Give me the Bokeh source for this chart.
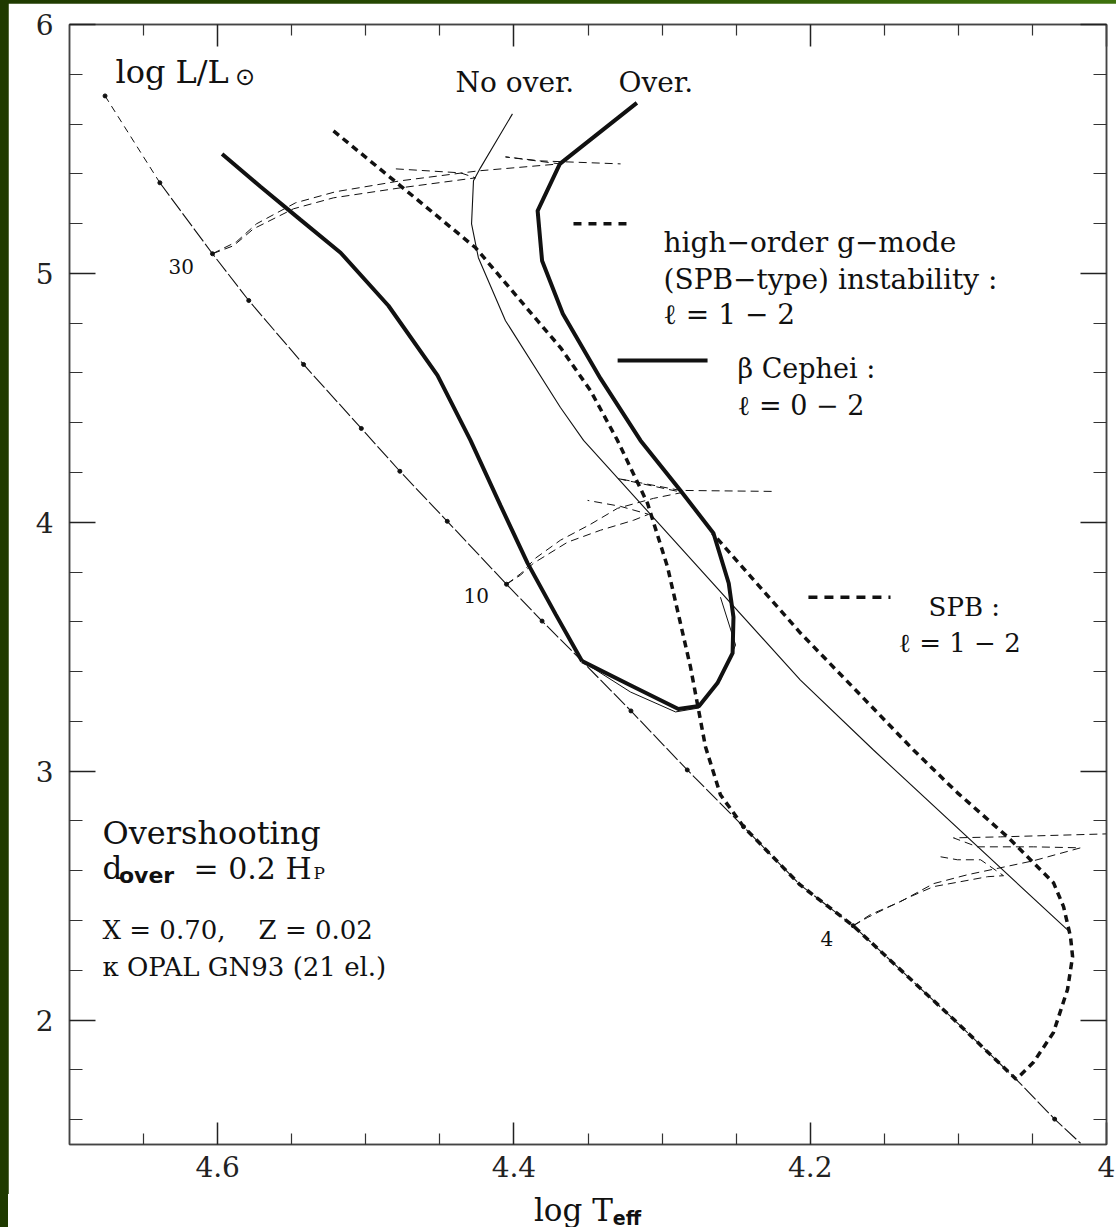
from bokeh.plotting import figure
from bokeh.models import Range1d, FixedTicker, LinearAxis, Label, Div
from bokeh.layouts import column
from bokeh.embed import file_html
from bokeh.resources import INLINE

# ---------------- data (log Teff, log L/Lsun) ----------------
zams_top_T = [4.676, 4.639]
zams_top_L = [5.713, 5.364]
zams_T = [4.639, 4.6035, 4.579, 4.542, 4.503, 4.477, 4.445, 4.405, 4.381, 4.354,
          4.321, 4.283, 4.245, 4.207, 4.171, 4.103, 4.061, 4.035, 4.0175]
zams_L = [5.364, 5.079, 4.891, 4.634, 4.377, 4.205, 4.004, 3.751, 3.603, 3.442,
          3.242, 3.005, 2.777, 2.544, 2.379, 2.002, 1.762, 1.602, 1.505]
mass_T = [4.676, 4.639, 4.6035, 4.579, 4.542, 4.503, 4.477, 4.445, 4.405, 4.381,
          4.321, 4.283, 4.245, 4.171, 4.035]
mass_L = [5.713, 5.364, 5.079, 4.891, 4.634, 4.377, 4.205, 4.004, 3.751, 3.603,
          3.242, 3.005, 2.777, 2.379, 1.602]

# beta Cephei domain (overshooting) - blue edge
bcep_blue_T = [4.597, 4.571, 4.544, 4.517, 4.4847, 4.4516, 4.4293, 4.4091, 4.3908, 4.3719, 4.354]
bcep_blue_L = [5.480, 5.348, 5.215, 5.083, 4.870, 4.590, 4.329, 4.068, 3.836, 3.631, 3.442]
# beta Cephei domain - lower/red edge and TAMS with overshooting
bcep_red_T = [4.354, 4.319, 4.289, 4.275, 4.2626, 4.2524, 4.2518, 4.255, 4.2653,
              4.2876, 4.3146, 4.3416, 4.367, 4.381, 4.384, 4.369, 4.317]
bcep_red_L = [3.442, 3.338, 3.250, 3.262, 3.354, 3.474, 3.619, 3.755, 3.956,
              4.128, 4.329, 4.578, 4.838, 5.051, 5.2515, 5.440, 5.685]
# beta Cephei domain - no overshooting (thin)
bcep_noov_T = [4.354, 4.3213, 4.2909, 4.275, 4.2606, 4.2504, 4.2606]
bcep_noov_L = [3.442, 3.318, 3.238, 3.254, 3.366, 3.507, 3.699]

# TAMS without overshooting
tams_T = [4.401, 4.4226, 4.4273, 4.4286, 4.424, 4.4057, 4.3686, 4.353, 4.2066, 4.1573, 4.0243]
tams_L = [5.641, 5.424, 5.372, 5.199, 5.063, 4.810, 4.461, 4.329, 3.366, 3.085, 2.351]

# SPB domain boundary
spb_T = [4.5218, 4.4766, 4.4259, 4.3841, 4.3686, 4.3483, 4.3301, 4.3098, 4.2963, 4.2808,
         4.2707, 4.2606, 4.245, 4.207, 4.171, 4.103, 4.061, 4.0493, 4.0358, 4.0263,
         4.0229, 4.0243, 4.029, 4.0358, 4.0668, 4.1006, 4.1303, 4.1687, 4.2066, 4.266]
spb_L = [5.5725, 5.352, 5.103, 4.810, 4.702, 4.529, 4.329, 4.076, 3.820, 3.418,
         3.098, 2.905, 2.777, 2.544, 2.379, 2.002, 1.762, 1.830, 1.950, 2.123,
         2.255, 2.335, 2.456, 2.552, 2.736, 2.913, 3.085, 3.322, 3.555, 3.956]

# evolutionary tracks (30, 10, 4 Msun), without / with overshooting
trk30_T = [4.6035, 4.5893, 4.5758, 4.5488, 4.5218, 4.4766, 4.4259, 4.4361, 4.48]
trk30_L = [5.079, 5.111, 5.179, 5.2595, 5.3036, 5.3437, 5.3838, 5.404, 5.42]
trk30o_T = [4.6035, 4.5873, 4.5738, 4.5474, 4.5204, 4.4766, 4.4239, 4.369, 4.4057, 4.382, 4.328]
trk30o_L = [5.079, 5.127, 5.199, 5.2836, 5.328, 5.372, 5.412, 5.440, 5.468, 5.452, 5.440]
trk10_T = [4.405, 4.3956, 4.3868, 4.3638, 4.3416, 4.3193, 4.3091, 4.3281, 4.3503]
trk10_L = [3.751, 3.7875, 3.8355, 3.920, 3.968, 4.008, 4.032, 4.064, 4.088]
trk10o_T = [4.405, 4.3949, 4.3854, 4.3686, 4.3483, 4.3301, 4.3058, 4.2862, 4.3301, 4.2876, 4.2248]
trk10o_L = [3.751, 3.796, 3.856, 3.928, 3.992, 4.056, 4.096, 4.120, 4.176, 4.128, 4.124]
trk4_T = [4.171, 4.1613, 4.1478, 4.1323, 4.1168, 4.0985, 4.0803, 4.0695, 4.085, 4.1006, 4.112]
trk4_L = [2.379, 2.412, 2.452, 2.496, 2.536, 2.556, 2.576, 2.580, 2.644, 2.644, 2.656]
trk4o_T = [4.171, 4.1593, 4.139, 4.1168, 4.0938, 4.0715, 4.0493, 4.0175, 4.0493, 4.0871, 4.1033, 4.0715, 4.0]
trk4o_L = [2.379, 2.424, 2.476, 2.548, 2.584, 2.612, 2.640, 2.692, 2.696, 2.696, 2.732, 2.736, 2.748]

x_major = [4.0, 4.2, 4.4, 4.6]
x_minor = [4.05, 4.1, 4.15, 4.25, 4.3, 4.35, 4.45, 4.5, 4.55, 4.65]
x_labels = {4.0: "4", 4.2: "4.2", 4.4: "4.4", 4.6: "4.6"}
y_major = [2, 3, 4, 5, 6]
y_minor = [1.6, 1.8, 2.2, 2.4, 2.6, 2.8, 3.2, 3.4, 3.6, 3.8, 4.2, 4.4, 4.6, 4.8, 5.2, 5.4, 5.6, 5.8]

SERIF = "DejaVu Serif"
INK = "#111111"

p = figure(width=1108, height=1191, output_backend="svg", toolbar_location=None,
           x_range=Range1d(4.7, 4.0), y_range=Range1d(1.5, 6.0),
           min_border_left=61, min_border_right=10, min_border_top=21, min_border_bottom=50)
p.grid.visible = False
p.background_fill_color = "white"
p.border_fill_color = "white"
p.outline_line_color = "#444444"
p.outline_line_width = 1.5


def style_axis(ax, ticks, minor, major_len, minor_len, labels=None):
    ax.ticker = FixedTicker(ticks=ticks, minor_ticks=minor)
    ax.major_tick_in = major_len
    ax.major_tick_out = 0
    ax.minor_tick_in = minor_len
    ax.minor_tick_out = 0
    ax.major_tick_line_color = "#222222"
    ax.minor_tick_line_color = "#333333"
    ax.major_tick_line_width = 1.5
    ax.minor_tick_line_width = 1.2
    ax.axis_line_color = "#444444"
    ax.axis_line_width = 1.5
    if labels is None:
        ax.major_label_overrides = {t: "" for t in ticks}
        ax.major_label_text_font_size = "1px"
        ax.major_label_standoff = 0
    else:
        ax.major_label_overrides = labels
        ax.major_label_text_font = SERIF
        ax.major_label_text_font_size = "28px"
        ax.major_label_text_color = "#222222"


xb = p.xaxis[0]
style_axis(xb, x_major, x_minor, 22, 11, x_labels)
xb.major_label_standoff = 11
yl = p.yaxis[0]
style_axis(yl, y_major, y_minor, 26, 13, {t: str(t) for t in y_major})
yl.major_label_standoff = 16

xt = LinearAxis()
style_axis(xt, x_major, x_minor, 22, 11)
p.add_layout(xt, "above")
yr = LinearAxis()
style_axis(yr, y_major, y_minor, 26, 13)
p.add_layout(yr, "right")

# ---------------- curves ----------------
TRK = dict(line_color=INK, line_width=1, line_dash="8 5")
for tx, ty in [(trk30_T, trk30_L), (trk30o_T, trk30o_L), (trk10_T, trk10_L),
               (trk10o_T, trk10o_L), (trk4_T, trk4_L), (trk4o_T, trk4o_L)]:
    p.line(tx, ty, **TRK)

p.line(zams_top_T, zams_top_L, line_color=INK, line_width=1, line_dash="7 5")
p.line(zams_T, zams_L, line_color=INK, line_width=1.1, line_dash="16 3")
p.scatter(mass_T, mass_L, size=4, color=INK)

p.line(tams_T, tams_L, line_color=INK, line_width=1.1)
p.line(bcep_noov_T, bcep_noov_L, line_color=INK, line_width=1)

p.line(spb_T, spb_L, line_color=INK, line_width=3.5, line_dash="7 5")
p.line(bcep_blue_T, bcep_blue_L, line_color=INK, line_width=4)
p.line(bcep_red_T, bcep_red_L, line_color=INK, line_width=4, line_join="round")

# legend samples
p.segment(x0=[4.3598], y0=[5.199], x1=[4.32], y1=[5.199], line_color=INK, line_width=3.5, line_dash="8 7")
p.segment(x0=[4.330], y0=[4.650], x1=[4.2693], y1=[4.650], line_color=INK, line_width=4)
p.segment(x0=[4.2012], y0=[3.699], x1=[4.1458], y1=[3.699], line_color=INK, line_width=3.5, line_dash="9 7")


def lab(x, y, text, size, font=SERIF, style="normal", baseline="alphabetic"):
    p.add_layout(Label(x=x, y=y, text=text, text_font=font, text_font_size=size,
                       text_font_style=style, text_color=INK, text_baseline=baseline,
                       text_align="left"))


NB = "\u00a0"
lab(4.669, 5.809, "log L/L", "32px")
lab(4.5882, 5.79, "⊙", "24px", font="DejaVu Sans")
lab(4.4394, 5.765, "No over.", "28px")
lab(4.3294, 5.765, "Over.", "28px")
lab(4.299, 5.123, "high−order g−mode", "28px")
lab(4.299, 4.975, "(SPB−type) instability :", "28px")
lab(4.299, 4.834, "ℓ = 1 − 2", "28px")
lab(4.2491, 4.618, "β Cephei :", "27px")
lab(4.2491, 4.469, "ℓ = 0 − 2", "27px")
lab(4.1201, 3.659, "SPB :", "26px")
lab(4.1404, 3.515, "ℓ = 1 − 2", "26px")
lab(4.6332, 5.027, "30", "20px", baseline="middle")
lab(4.434, 3.707, "10", "20px", baseline="middle")
lab(4.193, 2.327, "4", "20px", baseline="middle")

lab(4.6777, 2.75, "Overshooting", "32px")
lab(4.6777, 2.61, "d", "31px")
lab(4.6666, 2.582, "over", "22px", font="DejaVu Sans", style="bold")
lab(4.6163, 2.61, "= 0.2 H", "30px")
lab(4.5353, 2.59, "P", "17px")
lab(4.6777, 2.36, "X = 0.70," + NB * 4 + "Z = 0.02", "26px")
lab(4.6777, 2.215, "κ OPAL GN93 (21 el.)", "26px")

# x-axis title with subscript, placed right under the plot
xtitle = Div(
    text=("<div style=\"width:1037px;margin-left:61px;height:33px;line-height:33px;"
          "text-align:center;white-space:nowrap;color:#111111;"
          "font-family:'DejaVu Serif';font-size:31px;\">log T"
          "<span style=\"font-family:'DejaVu Sans';font-weight:bold;font-size:19px;"
          "vertical-align:-4px;line-height:0;\">eff</span></div>"),
    width=1108, height=33, styles={"margin": "0", "padding": "0", "background": "white"})

layout = column(p, xtitle, spacing=0)

html = file_html(layout, INLINE)
css = ("<style>html,body{margin:0 !important;}"
       "body{box-sizing:border-box;padding:3px 0 0 8px !important;"
       "background:linear-gradient(90deg,#1f3a00 0%,#2a5004 55%,#3e720d 100%) !important;}</style>")
html = html.replace("</head>", css + "</head>", 1)
open("out.html", "w").write(html)
